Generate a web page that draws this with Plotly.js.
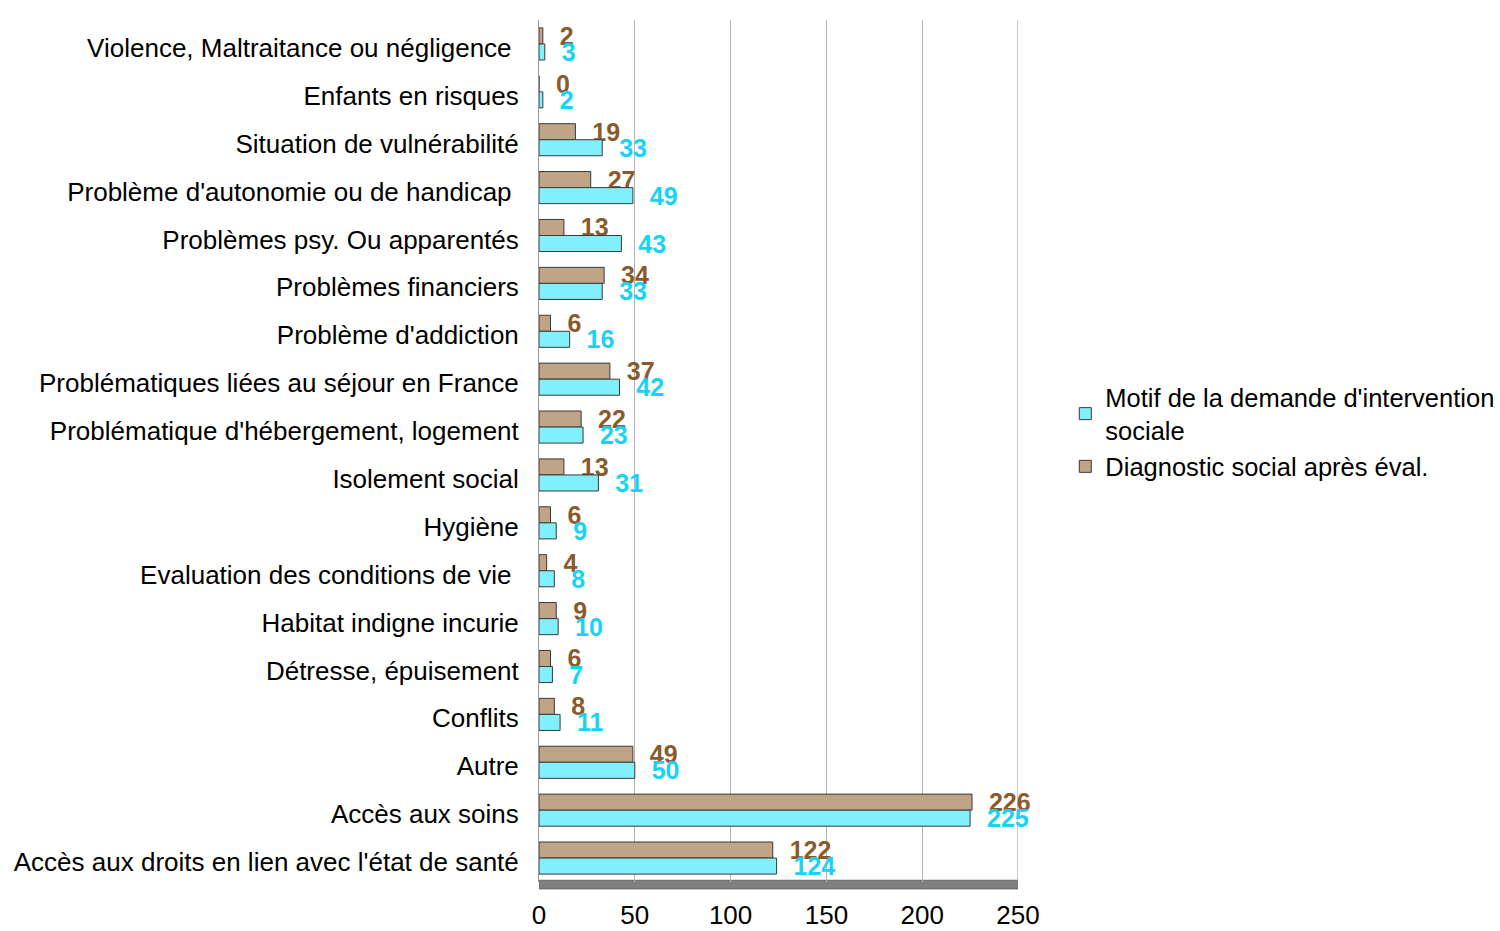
<!DOCTYPE html>
<html>
<head>
<meta charset="utf-8">
<script src="https://cdn.plot.ly/plotly-3.0.1.min.js"></script>
<style>html,body{margin:0;padding:0;background:#fff;}#chart{width:1500px;height:931px;}</style>
</head>
<body>
<div id="chart"></div>
<script>
const categories = [
  "Violence, Maltraitance ou négligence\u00a0",
  "Enfants en risques",
  "Situation de vulnérabilité",
  "Problème d'autonomie ou de handicap\u00a0",
  "Problèmes psy. Ou apparentés",
  "Problèmes financiers",
  "Problème d'addiction",
  "Problématiques liées au séjour en France",
  "Problématique d'hébergement, logement",
  "Isolement social",
  "Hygiène",
  "Evaluation des conditions de vie\u00a0",
  "Habitat indigne incurie",
  "Détresse, épuisement",
  "Conflits",
  "Autre",
  "Accès aux soins",
  "Accès aux droits en lien avec l'état de santé"
];
const motifValues = [3, 2, 33, 49, 43, 33, 16, 42, 23, 31, 9, 8, 10, 7, 11, 50, 225, 124];
const diagValues  = [2, 0, 19, 27, 13, 34, 6, 37, 22, 13, 6, 4, 9, 6, 8, 49, 226, 122];
const seriesNames = ["Motif de la demande d'intervention<br>sociale", "Diagnostic social après éval."];
const xTicks = [0, 50, 100, 150, 200, 250];

const FONT = "Liberation Sans, Arial, sans-serif";

const diag = {
  type: 'bar', orientation: 'h', name: seriesNames[1],
  y: categories, x: diagValues,
  marker: {color: '#c0a486', line: {color: '#3a3a3a', width: 1}},
  text: diagValues.map(String),
  texttemplate: '\u00a0\u00a0%{text}',
  textposition: 'outside', constraintext: 'none', cliponaxis: false,
  textfont: {family: FONT, size: 25, color: '#8b5a2b', weight: 'bold'},
  hoverinfo: 'x+name'
};
const motif = {
  type: 'bar', orientation: 'h', name: seriesNames[0],
  y: categories, x: motifValues,
  marker: {color: '#82effd', line: {color: '#3a3a3a', width: 1}},
  text: motifValues.map(String),
  texttemplate: '\u00a0\u00a0%{text}',
  textposition: 'outside', constraintext: 'none', cliponaxis: false,
  textfont: {family: FONT, size: 25, color: '#17d3f7', weight: 'bold'},
  hoverinfo: 'x+name'
};

const layout = {
  width: 1500, height: 931,
  margin: {l: 539, r: 482, t: 20, b: 49, autoexpand: false},
  paper_bgcolor: '#ffffff', plot_bgcolor: '#ffffff',
  font: {family: FONT, size: 25, color: '#000'},
  barmode: 'group', bargap: 0.33, bargroupgap: 0,
  showlegend: true,
  legend: {
    xref: 'container', yref: 'container',
    x: 0.7102, xanchor: 'left', y: 0.536, yanchor: 'middle',
    traceorder: 'reversed', font: {family: FONT, size: 25.5, color: '#000'},
    itemwidth: 30, tracegroupgap: 2, bgcolor: 'rgba(0,0,0,0)'
  },
  xaxis: {
    range: [0, 250], tickvals: xTicks, ticktext: xTicks.map(String),
    showgrid: true, gridcolor: '#b3b3b3', gridwidth: 1,
    zeroline: false, showline: false, ticks: '',
    ticklabelstandoff: 15,
    tickfont: {family: FONT, size: 26, color: '#000'}, fixedrange: true
  },
  yaxis: {
    type: 'category', autorange: 'reversed',
    showgrid: false, zeroline: false,
    showline: true, linecolor: '#9a9a9a', linewidth: 1, mirror: false,
    ticks: '', ticklabelstandoff: 14, ticklabelshift: -4,
    tickfont: {family: FONT, size: 26, color: '#000'}, fixedrange: true
  },
  shapes: [
    {type: 'rect', xref: 'x', yref: 'paper', x0: 0, x1: 250, y0: -0.008, y1: 0.002,
     fillcolor: '#808080', line: {color: '#6a6a6a', width: 1}, layer: 'below'},
    {type: 'line', xref: 'x', yref: 'paper', x0: 250, x1: 250, y0: 0, y1: 1,
     line: {color: '#9a9a9a', width: 1}, layer: 'below'}
  ]
};

Plotly.newPlot('chart', [diag, motif], layout, {displayModeBar: false, staticPlot: true});
</script>
</body>
</html>
